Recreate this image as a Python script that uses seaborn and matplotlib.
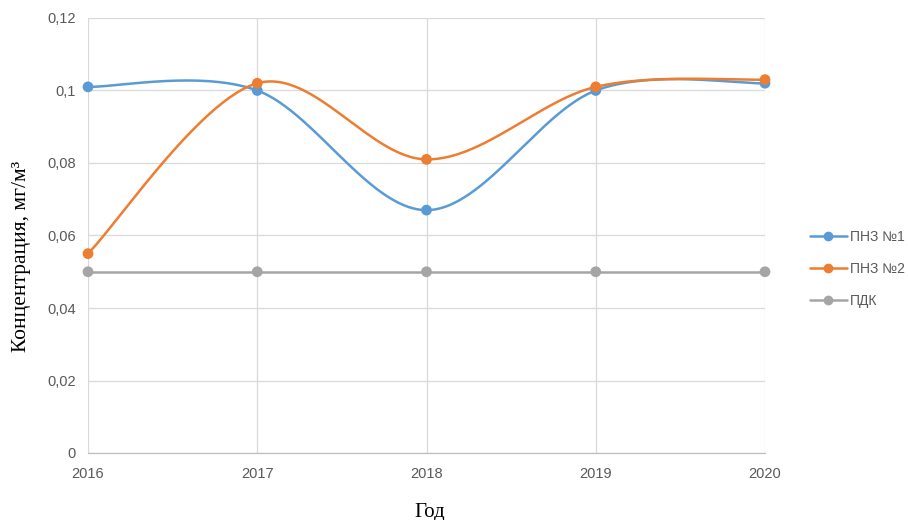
import numpy as np
import pandas as pd
import matplotlib
matplotlib.use("Agg")
import matplotlib.pyplot as plt
from matplotlib.lines import Line2D
import seaborn as sns

# Measured concentrations by year
years = [2016, 2017, 2018, 2019, 2020]
pnz1 = [0.101, 0.100, 0.067, 0.100, 0.102]
pnz2 = [0.055, 0.102, 0.081, 0.101, 0.103]
pdk = [0.05, 0.05, 0.05, 0.05, 0.05]
series_names = ["ПНЗ №1", "ПНЗ №2", "ПДК"]
colors = ["#5B9BD5", "#ED7D31", "#A5A5A5"]
y_ticks = [0, 0.02, 0.04, 0.06, 0.08, 0.10, 0.12]
y_tick_labels = ["0", "0,02", "0,04", "0,06", "0,08", "0,1", "0,12"]


def smooth(xs, ys, n=60):
    """Catmull-Rom style cubic Bezier through the points (spreadsheet 'smoothed line')."""
    xs = np.asarray(xs, float)
    ys = np.asarray(ys, float)
    px = np.concatenate([[xs[0]], xs, [xs[-1]]])
    py = np.concatenate([[ys[0]], ys, [ys[-1]]])
    out_x, out_y = [], []
    t = np.linspace(0, 1, n)
    for i in range(1, len(px) - 2):
        p0 = np.array([px[i], py[i]])
        p3 = np.array([px[i + 1], py[i + 1]])
        c1 = p0 + (np.array([px[i + 1], py[i + 1]]) - np.array([px[i - 1], py[i - 1]])) / 6
        c2 = p3 - (np.array([px[i + 2], py[i + 2]]) - np.array([px[i], py[i]])) / 6
        b = ((1 - t) ** 3)[:, None] * p0 + (3 * (1 - t) ** 2 * t)[:, None] * c1 \
            + (3 * (1 - t) * t ** 2)[:, None] * c2 + (t ** 3)[:, None] * p3
        out_x.extend(b[:, 0])
        out_y.extend(b[:, 1])
    return out_x, out_y


sns.set_theme(style="white")
plt.rcParams["font.family"] = ["Liberation Sans", "DejaVu Sans"]

fig = plt.figure(figsize=(9.08, 5.2), dpi=100)
ax = fig.add_axes([88 / 908, 1 - 453 / 520, (765 - 88) / 908, (453 - 18) / 520])

points = pd.DataFrame({
    "year": years * 3,
    "value": pnz1 + pnz2 + pdk,
    "series": [s for s in series_names for _ in years],
})

curves = []
for name, vals in zip(series_names, [pnz1, pnz2, pdk]):
    cx, cy = smooth(years, vals)
    curves.append(pd.DataFrame({"year": cx, "value": cy, "series": name}))
curves = pd.concat(curves, ignore_index=True)

palette = dict(zip(series_names, colors))
sns.lineplot(data=curves, x="year", y="value", hue="series", palette=palette,
             estimator=None, sort=False, linewidth=1.8, legend=False, ax=ax,
             zorder=3)
sns.scatterplot(data=points, x="year", y="value", hue="series", palette=palette,
                s=60, edgecolor="none", legend=False, ax=ax, zorder=4, clip_on=False)

ax.set_xlim(2016, 2020)
ax.set_ylim(0, 0.12)
ax.set_xticks(years)
ax.set_xticklabels([str(y) for y in years])
ax.set_yticks(y_ticks)
ax.set_yticklabels(y_tick_labels)
ax.grid(True, color="#D9D9D9", linewidth=0.9)
ax.set_axisbelow(True)
for side in ["top", "right", "left"]:
    ax.spines[side].set_visible(False)
ax.spines["bottom"].set_color("#BFBFBF")
ax.spines["bottom"].set_linewidth(0.9)
ax.tick_params(axis="both", length=0, labelsize=10.5, labelcolor="#595959")
ax.tick_params(axis="x", pad=10)
ax.tick_params(axis="y", pad=9)

ax.set_xlabel("")
ax.set_ylabel("")
fig.text(430 / 908, 1 - 512 / 520, "Год", ha="center", va="center",
         fontsize=15, family="Liberation Serif", color="black")
fig.text(22 / 908, 1 - 256 / 520, "Концентрация, мг/м³", ha="center", va="center",
         rotation=90, fontsize=15.5, family="Liberation Serif", color="black")

handles = [Line2D([0], [0], color=c, linewidth=1.8, marker="o", markersize=6)
           for c in colors]
leg = fig.legend(handles, series_names, loc="center left",
                 bbox_to_anchor=(797 / 908, 1 - 269 / 520), frameon=False,
                 fontsize=10, labelspacing=1.3, handlelength=2.7, handletextpad=0.2)
for t in leg.get_texts():
    t.set_color("#595959")

fig.savefig("out.png", dpi=100, facecolor="white")
